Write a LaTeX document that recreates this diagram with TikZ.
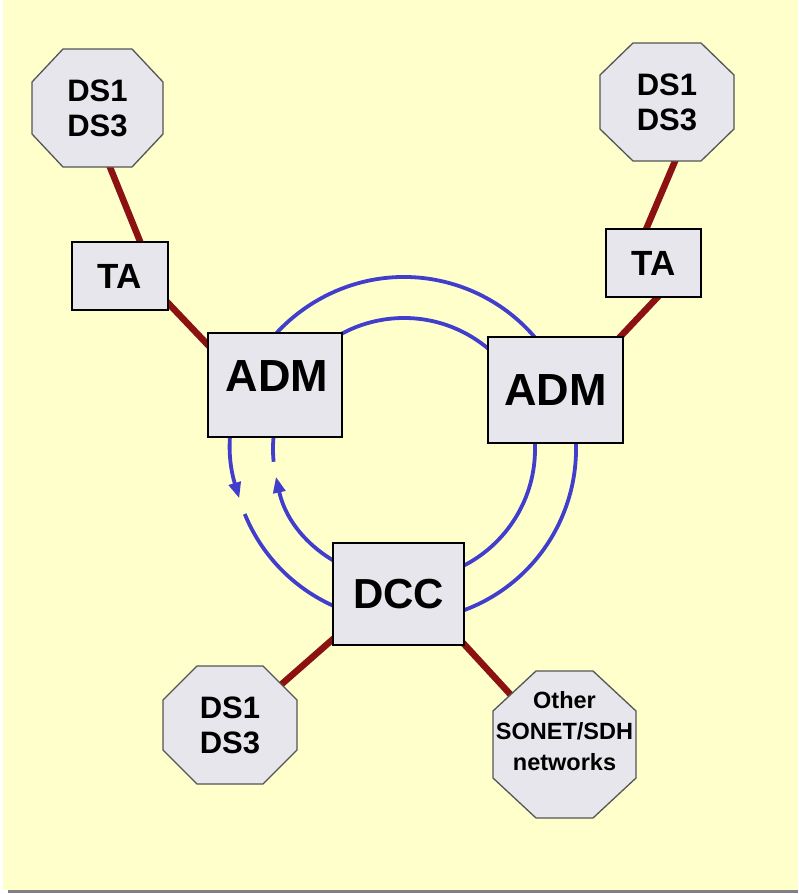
\documentclass[tikz,border=0pt]{standalone}
\usepackage{fontspec}
\setmainfont{Liberation Sans}
\usetikzlibrary{arrows.meta,calc}
\pgfdeclarelayer{bg}
\pgfsetlayers{bg,main}
\definecolor{bgyellow}{RGB}{255,255,204}
\definecolor{boxfill}{RGB}{230,230,236}
\definecolor{ringblue}{RGB}{66,62,204}
\definecolor{linkred}{RGB}{140,18,18}
\definecolor{octline}{RGB}{85,85,85}
\definecolor{rulegray}{RGB}{128,128,128}
% cx, cy, half width, half height, cut x, cut y
\newcommand\octshape[6]{%
  \filldraw[octpath] ({#1-#3+#5},{#2-#4}) -- ({#1+#3-#5},{#2-#4}) --
    ({#1+#3},{#2-#4+#6}) -- ({#1+#3},{#2+#4-#6}) --
    ({#1+#3-#5},{#2+#4}) -- ({#1-#3+#5},{#2+#4}) --
    ({#1-#3},{#2+#4-#6}) -- ({#1-#3},{#2-#4+#6}) -- cycle;}
\tikzset{
  octpath/.style={fill=boxfill, draw=octline, line width=1.3pt, line join=miter},
  octnode/.style={rectangle, inner sep=0pt, align=center, text=black,
    font=\fontsize{31}{35}\selectfont\bfseries},
  boxnode/.style={rectangle, draw=black, line width=1.5pt, fill=boxfill, inner sep=0pt, text=black},
  tafont/.style={font=\fontsize{35}{40}\selectfont\bfseries},
  admfont/.style={font=\fontsize{45}{50}\selectfont\bfseries},
  link/.style={draw=linkred, line width=6.5pt, shorten <=-4pt, shorten >=-4pt},
  ring/.style={draw=ringblue, line width=3.8pt},
  ringarrow/.style={ring, -{Triangle[length=16pt,width=12pt]}},
}
\begin{document}
\begin{tikzpicture}[x=1pt,y=-1pt]
\useasboundingbox (0,0) rectangle (798,894);
% octagon outlines
\octshape{97.5}{108}{65.5}{59}{31}{33}
\octshape{667}{102}{67}{59}{33}{32}
\octshape{230}{725}{67}{59}{34}{34}
\octshape{564.5}{744.5}{71.5}{73.5}{43}{40}
% octagon nodes
\node[octnode, minimum width=131pt, minimum height=118pt] (tl) at (97.5,108) {DS1\\DS3};
\node[octnode, minimum width=134pt, minimum height=118pt] (tr) at (667,102) {DS1\\DS3};
\node[octnode, minimum width=134pt, minimum height=118pt] (bl) at (230,725) {DS1\\DS3};
\node[octnode, minimum width=143pt, minimum height=147pt] (br) at (564.5,744.5) {};
\node[octnode, font=\fontsize{23.5}{31}\selectfont\bfseries] (brtext) at (564.5,731) {Other\\SONET/SDH\\networks};
% boxes
\node[boxnode, tafont, minimum width=96pt, minimum height=68pt] (ta1) at (120,276) {TA};
\node[boxnode, tafont, minimum width=95pt, minimum height=68pt] (ta2) at (653.5,263) {TA};
\node[boxnode, minimum width=134pt, minimum height=104pt] (adm1) at (275,385) {};
\node[admfont, inner sep=0pt] (adm1text) at (277,376.5) {ADM};
\node[boxnode, admfont, minimum width=135pt, minimum height=106pt] (adm2) at (555.5,390) {ADM};
\node[boxnode, font=\fontsize{42}{46}\selectfont\bfseries, minimum width=131pt, minimum height=102pt] (dcc) at (398.5,594) {DCC};
\coordinate (ringc) at (404,449);
\begin{pgfonlayer}{bg}
  \fill[white] (0,0) rectangle (798,894);
  \fill[bgyellow] (3,0) rectangle (798,890);
  \draw[rulegray, line width=2.5pt] (8,891.5) -- (798,891.5);
  % ring
  \draw[ringarrow] ([shift={(157.8:172)}]ringc) arc[start angle=157.8, end angle=-196.7, radius=172];
  \draw[ringarrow] ([shift={(174.4:131)}]ringc) arc[start angle=174.4, end angle=527.8, radius=131];
  % links
  \draw[link] ($(tl.south)+(12.5,0)$) -- ($(ta1.north)+(20,0)$);
  \draw[link] ($(ta1.south east)+(0,-7)$) -- ($(adm1.north west)+(0,12)$);
  \draw[link] ($(tr.south)+(8,0)$) -- ($(ta2.north)+(-7,0)$);
  \draw[link] ($(ta2.south)+(3.5,0)$) -- ($(adm2.north east)+(-3,0)$);
  \draw[link] ($(dcc.south west)+(0,-6)$) -- ($(bl.north east)+(-14,17)$);
  \draw[link] ($(dcc.south east)+(-1,-2)$) -- ($(br.north west)+(17,23)$);
\end{pgfonlayer}
\end{tikzpicture}
\end{document}
